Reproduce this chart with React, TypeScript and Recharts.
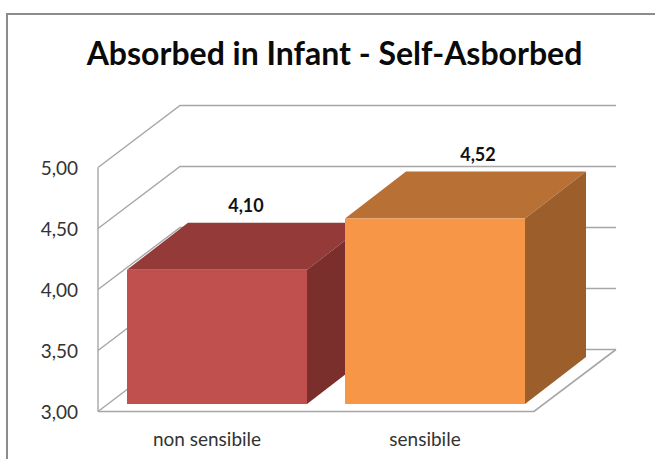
import { BarChart, Bar, XAxis, YAxis, CartesianGrid, Cell, LabelList } from 'recharts'

const categories = ['non sensibile', 'sensibile']
const scores = [4.1, 4.52]
const yTicks = [3, 3.5, 4, 4.5, 5]

const frontColors = ['#C0504D', '#F79646']
const topColors = ['#943A38', '#B97034']
const sideColors = ['#7A2F2D', '#9C5F2B']
const labelShift = [29, 43]

const data = categories.map((name, i) => ({ name, score: scores[i] }))

const WIDTH = 655
const HEIGHT = 459
const MARGIN = { top: 160, right: 111, bottom: 0, left: 0 }
const Y_AXIS_WIDTH = 108
const X_AXIS_HEIGHT = 55
const FONT = 'Lato, sans-serif'

// wall depth, and how far the bars sit in front of the back wall
const WALL_DX = 82
const WALL_DY = 62
const BAR_DX = 61
const BAR_DY = 47
const FRONT_DX = 10
const FRONT_DY = 7.5
const GRID_COLOR = '#A6A6A6'

const comma = (v: number) => v.toFixed(2).replace('.', ',')

// one wall line per tick: along the left side, then across the back
function WallLine(props: any) {
  const { x1, x2, y1 } = props
  const frontX = x1 - FRONT_DX
  const frontY = y1 + FRONT_DY
  const backX = frontX + WALL_DX
  const backY = frontY - WALL_DY
  const rightX = x2 - FRONT_DX + WALL_DX
  const bottom = HEIGHT - X_AXIS_HEIGHT
  const isFloor = Math.abs(y1 - bottom) < 1
  return (
    <g fill="none" stroke={GRID_COLOR}>
      <polyline strokeWidth={1.4} points={`${frontX},${frontY} ${backX},${backY} ${rightX},${backY}`} />
      {isFloor && (
        <>
          <line x1={frontX} y1={MARGIN.top + FRONT_DY} x2={frontX} y2={frontY} strokeWidth={1.4} />
          <polyline strokeWidth={1.6} points={`${frontX},${frontY} ${x2 - FRONT_DX},${frontY} ${rightX},${backY}`} />
        </>
      )}
    </g>
  )
}

function Box(props: any) {
  const { x, y, width, height, index } = props
  const r = x + width
  const b = y + height
  return (
    <g>
      <polygon fill={topColors[index]} points={`${x},${y} ${x + BAR_DX},${y - BAR_DY} ${r + BAR_DX},${y - BAR_DY} ${r},${y}`} />
      <polygon fill={sideColors[index]} points={`${r},${y} ${r + BAR_DX},${y - BAR_DY} ${r + BAR_DX},${b - BAR_DY} ${r},${b}`} />
      <rect x={x} y={y} width={width} height={height} fill={frontColors[index]} />
    </g>
  )
}

function ValueTick(props: any) {
  const { x, y, payload } = props
  return (
    <text x={x - 22} y={y + FRONT_DY + 7} textAnchor="end" fontSize={19} fontFamily={FONT} fill="#333">
      {comma(payload.value)}
    </text>
  )
}

function CategoryTick(props: any) {
  const { x, payload } = props
  return (
    <text x={x - FRONT_DX} y={446} textAnchor="middle" fontSize={19} fontFamily={FONT} fill="#333">
      {payload.value}
    </text>
  )
}

function TopLabel(props: any) {
  const { x, y, width, value, index } = props
  return (
    <text x={x + width / 2 + labelShift[index]} y={y - BAR_DY - 11} textAnchor="middle" fontSize={18} fontWeight={700} fontFamily={FONT} fill="#111">
      {comma(value)}
    </text>
  )
}

export default function App() {
  return (
    <div style={{ position: 'absolute', left: 0, top: 0, width: WIDTH, height: HEIGHT, overflow: 'hidden', background: '#fff' }}>
      <div style={{ position: 'absolute', left: 6, top: 13, width: 700, height: 500, border: '2px solid #8C8C8C' }} />
      <div style={{ position: 'absolute', left: 0, width: 669, top: 33, textAlign: 'center', fontFamily: FONT, fontWeight: 700, fontSize: 32, lineHeight: '40px', color: '#0A0A0A' }}>
        Absorbed in Infant - Self-Asborbed
      </div>
      <BarChart width={WIDTH} height={HEIGHT} data={data} margin={MARGIN} barSize={180} style={{ position: 'absolute', left: 0, top: 0 }}>
        <CartesianGrid vertical={false} horizontal={(p: any) => <WallLine key={p.index} {...p} />} />
        <XAxis dataKey="name" height={X_AXIS_HEIGHT} axisLine={false} tickLine={false} tick={<CategoryTick />} interval={0} />
        <YAxis type="number" domain={[3, 5]} ticks={yTicks} width={Y_AXIS_WIDTH} axisLine={false} tickLine={false} tick={<ValueTick />} interval={0} />
        <Bar dataKey="score" isAnimationActive={false} shape={<Box />}>
          {data.map((d) => (
            <Cell key={d.name} />
          ))}
          <LabelList dataKey="score" content={<TopLabel />} />
        </Bar>
      </BarChart>
    </div>
  )
}
